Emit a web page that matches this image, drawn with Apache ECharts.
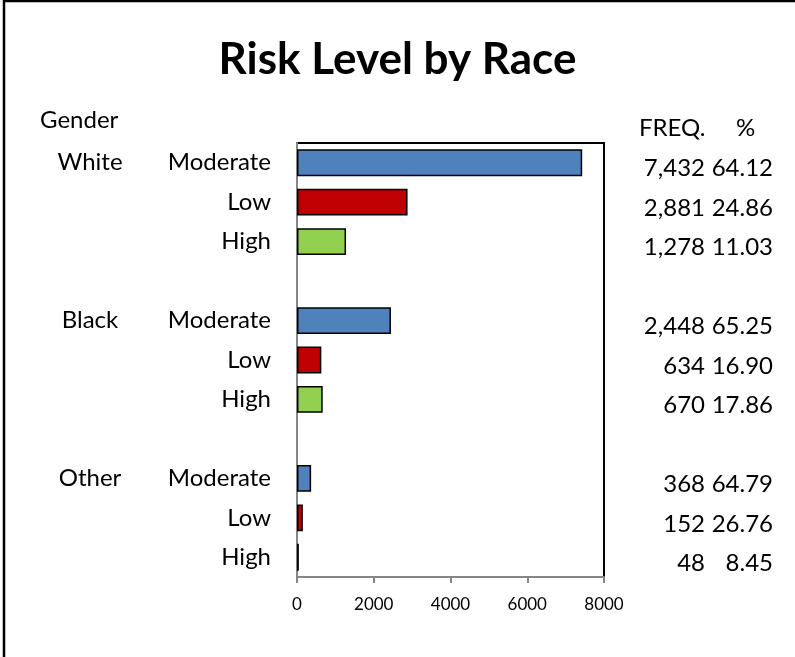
<!DOCTYPE html>
<html>
<head>
<meta charset="utf-8">
<script src="https://cdn.jsdelivr.net/npm/echarts@6/dist/echarts.min.js"></script>
<style>
  html, body { margin: 0; padding: 0; background: #fff; }
  #main { width: 795px; height: 657px; }
</style>
</head>
<body>
<div id="main"></div>
<script>
// 数据：空字符串是组之间的空行
var riskLevels = ['Moderate', 'Low', 'High', '', 'Moderate', 'Low', 'High', '', 'Moderate', 'Low', 'High'];
var raceLabels = ['White', '', '', '', 'Black', '', '', '', 'Other', '', ''];
var freqValues = [7432, 2881, 1278, null, 2448, 634, 670, null, 368, 152, 48];
var pctValues = ['64.12', '24.86', '11.03', '', '65.25', '16.90', '17.86', '', '64.79', '26.76', '8.45'];
var levelColors = {Moderate: '#4F81BD', Low: '#C00000', High: '#92D050'};
var xTicks = [0, 2000, 4000, 6000, 8000];

var font = 'Lato, "Open Sans", sans-serif';
var labelSize = 24;

var chart = echarts.init(document.getElementById('main'));

var barData = freqValues.map(function (v, i) {
    if (v === null) return null;
    return {value: v, itemStyle: {color: levelColors[riskLevels[i]]}};
});

var option = {
    animation: false,
    title: {
        text: 'Risk Level by Race',
        left: 'center',
        top: 33,
        textStyle: {fontFamily: font, fontSize: 44, fontWeight: 'bold', color: '#000'}
    },
    graphic: [
        {type: 'rect', shape: {x: 4, y: 1, width: 1000, height: 1000}, style: {fill: null, stroke: '#000', lineWidth: 2.5}},
        {type: 'text', left: 40, top: 108, style: {text: 'Gender', font: labelSize + 'px ' + font, fill: '#000'}},
        {type: 'text', left: 639, top: 116, style: {text: 'FREQ.', font: labelSize + 'px ' + font, fill: '#000'}},
        {type: 'text', left: 736, top: 116, style: {text: '%', font: labelSize + 'px ' + font, fill: '#000'}}
    ],
    grid: {
        left: 297, top: 143, right: 191, bottom: 80,
        show: true, borderColor: '#000', borderWidth: 2, backgroundColor: '#fff'
    },
    xAxis: {
        type: 'value',
        min: xTicks[0],
        max: xTicks[xTicks.length - 1],
        interval: 2000,
        axisLine: {show: true, lineStyle: {color: '#868686', width: 2}},
        axisTick: {show: true, length: 6, lineStyle: {color: '#868686', width: 2}},
        splitLine: {show: false},
        axisLabel: {
            color: '#000', fontFamily: font, fontSize: 17, margin: 19,
            formatter: function (v) { return String(v); }
        }
    },
    yAxis: [
        {
            type: 'category',
            data: riskLevels,
            inverse: true,
            position: 'left',
            axisLine: {show: true, onZero: false, lineStyle: {color: '#868686', width: 2}},
            axisTick: {show: false},
            axisLabel: {color: '#000', fontFamily: font, fontSize: labelSize, margin: 26, interval: 0}
        },
        {
            type: 'category',
            data: raceLabels,
            inverse: true,
            position: 'left',
            axisLine: {show: false},
            axisTick: {show: false},
            axisLabel: {color: '#000', fontFamily: font, fontSize: labelSize, margin: 207, align: 'center', interval: 0}
        },
        {
            type: 'category',
            data: riskLevels.map(function (d, i) { return String(i); }),
            inverse: true,
            position: 'right',
            axisLine: {show: false},
            axisTick: {show: false},
            axisLabel: {
                interval: 0,
                margin: 4,
                align: 'left',
                formatter: function (v) {
                    var i = +v;
                    if (freqValues[i] === null) return '';
                    return '{f|' + freqValues[i].toLocaleString('en-US') + '}{p|' + pctValues[i] + '}';
                },
                rich: {
                    f: {width: 97, align: 'right', color: '#000', fontFamily: font, fontSize: labelSize, padding: [12, 0, 0, 0]},
                    p: {width: 68, align: 'right', color: '#000', fontFamily: font, fontSize: labelSize, padding: [12, 0, 0, 0]}
                }
            }
        }
    ],
    series: [{
        type: 'bar',
        yAxisIndex: 0,
        data: barData,
        barWidth: '68%',
        itemStyle: {borderColor: '#000', borderWidth: 1.5}
    }]
};

chart.setOption(option);
</script>
</body>
</html>
